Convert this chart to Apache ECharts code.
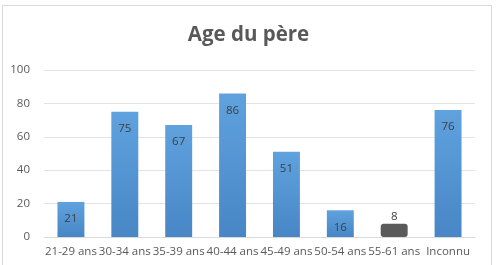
<!DOCTYPE html>
<html><head><meta charset="utf-8">
<script src="https://cdn.jsdelivr.net/npm/echarts@6/dist/echarts.min.js"></script>
<style>html,body{margin:0;padding:0;background:#fff;}#c{width:497px;height:265px;}
#frame{position:absolute;left:2px;top:5px;width:490px;height:262px;border:1px solid #d9d9d9;box-sizing:border-box;pointer-events:none;}</style>
</head><body><div id="c"></div><div id="frame"></div>
<script>
const categories = ["21-29 ans","30-34 ans","35-39 ans","40-44 ans","45-49 ans","50-54 ans","55-61 ans","Inconnu"];
const values = [21,75,67,86,51,16,8,76];
const yTicks = {min:0, max:100, interval:20};
const chart = echarts.init(document.getElementById('c'));
const blue = new echarts.graphic.LinearGradient(0,0,0,1,[{offset:0,color:'#5fa2de'},{offset:1,color:'#4886c6'}]);
const data = values.map((v,i)=> i===6 ? {value:v, itemStyle:{color:'#5a5a5a', borderRadius:3}, label:{position:'top', distance:1}} : {value:v});
chart.setOption({
  animation:false,
  title:{text:'Age du père', left:'center', top:20, textStyle:{fontFamily:'Open Sans', fontSize:20.5, fontWeight:'bold', color:'#595959'}},
  grid:{left:44, right:22, top:70, bottom:28},
  xAxis:{type:'category', data:categories, axisTick:{show:false}, axisLine:{lineStyle:{color:'#d9d9d9'}},
    axisLabel:{color:'#595959', fontFamily:'Open Sans', fontSize:11.5, margin:9, interval:0}},
  yAxis:{type:'value', min:yTicks.min, max:yTicks.max, interval:yTicks.interval, axisLine:{show:false}, axisTick:{show:false},
    splitLine:{lineStyle:{color:'#e3e3e3'}}, axisLabel:{color:'#595959', fontFamily:'Open Sans', fontSize:11.5, margin:14}},
  series:[{type:'bar', data:data, barWidth:'50%', itemStyle:{color:blue},
    label:{show:true, position:'insideTop', distance:11, color:'#404040', fontFamily:'Open Sans', fontSize:11.5}}]
});
</script></body></html>
